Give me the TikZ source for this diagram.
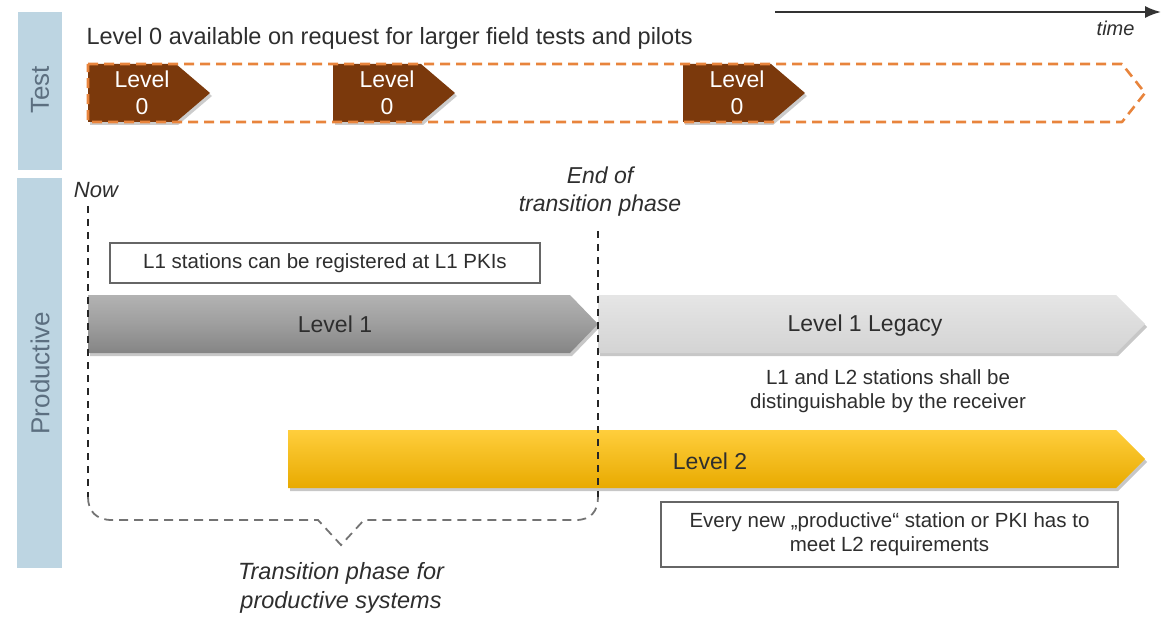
\documentclass[tikz,border=0pt]{standalone}
\usepackage{fontspec}
\setmainfont{Liberation Sans}
\usetikzlibrary{arrows.meta}
\definecolor{band}{HTML}{BDD5E2}
\definecolor{bandtext}{HTML}{5C6F80}
\definecolor{txt}{HTML}{2E2E2E}
\definecolor{brownlv}{HTML}{7B390C}
\definecolor{orangedash}{HTML}{E8843C}
\tikzset{
  bandlabel/.style={rotate=90,text=bandtext,font=\fontsize{26}{30}\selectfont},
  italictxt/.style={text=txt,font=\fontsize{23}{28}\selectfont\itshape,align=center},
  bartxt/.style={text=txt,font=\fontsize{23}{27}\selectfont},
  boxtxt/.style={text=txt,font=\fontsize{20.5}{24}\selectfont,align=center},
  lzero/.style={text=white,font=\fontsize{23}{27}\selectfont,align=center},
  shadowfill/.style={fill=black,opacity=0.22},
  vdash/.style={draw=black!85,line width=2pt,dash pattern=on 7pt off 6pt},
  bracedash/.style={draw=black!55,line width=1.8pt,dash pattern=on 9pt off 6pt},
  notebox/.style={draw=black!60,line width=1.2pt,fill=white},
}
\begin{document}
\begin{tikzpicture}[x=1pt,y=-1pt]
\useasboundingbox (0,0) rectangle (1166,620);

% bands
\fill[band] (18,12) rectangle (62,170);
\fill[band] (17,178) rectangle (62,568);
\node[bandlabel] (testlbl) at (40,90) {Test};
\node[bandlabel] (prodlbl) at (40,373) {Productive};

% time arrow
\coordinate (ts) at (775,12);
\coordinate (te) at (1161,12);
\draw[black!80,line width=1.8pt,-{Latex[length=16pt,width=12pt]}] (ts) -- (te);
\node[italictxt,font=\fontsize{20}{24}\selectfont\itshape,anchor=east] (time) at (1138,28) {time};

% title
\node[text=txt,font=\fontsize{23.5}{28}\selectfont,anchor=west] (title) at (83,38)
  {Level 0 available on request for larger field tests and pilots};

% Level 0 shapes
\foreach \s/\n in {88/a,333/b,683/c}{
  \fill[black,opacity=0.2] (\s+2,67) -- (\s+90,67) -- (\s+124,96) -- (\s+90,125) -- (\s+2,125) -- cycle;
  \fill[brownlv] (\s,64) -- (\s+88,64) -- (\s+122,93) -- (\s+88,122) -- (\s,122) -- cycle;
  \node[lzero] (lzero\n) at (\s+54,93) {Level\\0};
}
% orange dashed frame
\draw[orangedash,line width=2.6pt,dash pattern=on 10pt off 6pt,line join=round]
  (88,64) -- (1122,64) -- (1145,93) -- (1122,122) -- (88,122) -- cycle;

% Level 1
\fill[shadowfill] (90,298) -- (572,298) -- (600,327) -- (572,356) -- (90,356) -- cycle;
\shade[top color=black!30,bottom color=black!48,middle color=black!38]
  (88,295) -- (570,295) -- (598,324) -- (570,353) -- (88,353) -- cycle;
\node[bartxt] (lone) at (335,324) {Level 1};

% Level 1 Legacy
\fill[shadowfill] (600,298) -- (1118,298) -- (1147,327) -- (1118,356) -- (600,356) -- cycle;
\shade[top color=black!10,bottom color=black!17]
  (598,295) -- (1116,295) -- (1145,324) -- (1116,353) -- (598,353) -- cycle;
\node[bartxt] (legacy) at (865,326) {Level 1 Legacy};

% Level 2
\fill[shadowfill] (290,433) -- (1118,433) -- (1147,462) -- (1118,491) -- (290,491) -- cycle;
\shade[top color={rgb,255:red,255;green,206;blue,60},middle color={rgb,255:red,255;green,192;blue,0},bottom color={rgb,255:red,232;green,170;blue,0}]
  (288,430) -- (1116,430) -- (1145,459) -- (1116,488) -- (288,488) -- cycle;
\node[bartxt] (ltwo) at (710,461) {Level 2};

% note boxes
\node[notebox,boxtxt,minimum width=430pt,minimum height=40pt,inner sep=0pt] (lonebox) at (325,263)
  {L1 stations can be registered at L1 PKIs};
\node[notebox,boxtxt,minimum width=457pt,minimum height=65pt,inner sep=0pt] (ltwobox) at (889.5,534.5)
  {Every new „productive“ station or PKI has to\\meet L2 requirements};
\node[boxtxt] (dist) at (888,391) {L1 and L2 stations shall be\\distinguishable by the receiver};

% Now / end of transition
\node[italictxt,font=\fontsize{22}{26}\selectfont\itshape] (now) at (96,190) {Now};
\node[italictxt,font=\fontsize{23}{28}\selectfont\itshape] (endtr) at (600,192) {End of\\transition phase};

\coordinate (nowtop) at (88,206);
\coordinate (nowbot) at (88,497);
\coordinate (endtop) at (598,231);
\coordinate (endbot) at (598,497);
\draw[bracedash] (nowbot) .. controls (88,511) and (96,520) .. (112,520) -- (318,520) -- (341,545) -- (364,520) -- (576,520) .. controls (591,520) and (598,511) .. (endbot);
\draw[vdash] (nowtop) -- (nowbot);
\draw[vdash] (endtop) -- (endbot);

\node[italictxt,font=\fontsize{23.5}{29}\selectfont\itshape] (trans) at (341,588) {Transition phase for\\productive systems};
\end{tikzpicture}
\end{document}
